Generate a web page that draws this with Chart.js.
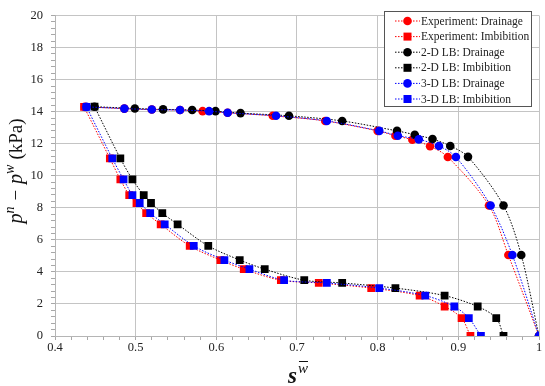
<!DOCTYPE html>
<html>
<head>
<meta charset="utf-8">
<script src="https://cdn.jsdelivr.net/npm/chart.js@4/dist/chart.umd.min.js"></script>
<style>
  html, body { margin: 0; padding: 0; background: #fff; }
  #wrap { width: 545px; height: 386px; }
</style>
</head>
<body>
<div id="wrap"><canvas id="chart" width="545" height="386"></canvas></div>
<script>
// saturation / capillary pressure values
const expDrainS = [0.437, 0.486, 0.520, 0.555, 0.583, 0.614, 0.670, 0.735, 0.800, 0.822, 0.843, 0.865, 0.887, 0.938, 0.962, 1.0];
const expDrainP = [14.3, 14.19, 14.13, 14.1, 14.03, 13.93, 13.74, 13.42, 12.8, 12.5, 12.25, 11.84, 11.17, 8.14, 5.05, 0];
const expImbS = [0.436, 0.468, 0.481, 0.492, 0.501, 0.513, 0.531, 0.567, 0.605, 0.634, 0.680, 0.727, 0.792, 0.852, 0.883, 0.904, 0.915];
const expImbP = [14.3, 11.08, 9.77, 8.79, 8.3, 7.67, 6.97, 5.62, 4.74, 4.17, 3.48, 3.31, 2.99, 2.52, 1.84, 1.12, 0];

const lb2DrainS = [0.449, 0.499, 0.534, 0.570, 0.599, 0.630, 0.690, 0.756, 0.824, 0.846, 0.868, 0.890, 0.912, 0.956, 0.978, 1.0];
const lb2DrainP = [14.31, 14.2, 14.14, 14.1, 14.03, 13.91, 13.74, 13.42, 12.8, 12.56, 12.29, 11.86, 11.18, 8.14, 5.05, 0];
const lb2ImbS = [0.449, 0.481, 0.496, 0.510, 0.519, 0.533, 0.552, 0.590, 0.629, 0.660, 0.709, 0.756, 0.822, 0.883, 0.924, 0.947, 0.956];
const lb2ImbP = [14.31, 11.08, 9.77, 8.79, 8.3, 7.67, 6.97, 5.62, 4.74, 4.17, 3.48, 3.31, 2.99, 2.52, 1.84, 1.12, 0];

const lb3DrainS = [0.439, 0.486, 0.520, 0.555, 0.591, 0.614, 0.674, 0.737, 0.802, 0.825, 0.851, 0.876, 0.897, 0.940, 0.967, 1.0];
const lb3DrainP = [14.3, 14.19, 14.13, 14.1, 14.03, 13.93, 13.74, 13.42, 12.8, 12.5, 12.27, 11.86, 11.17, 8.14, 5.05, 0];
const lb3ImbS = [0.439, 0.471, 0.485, 0.496, 0.505, 0.518, 0.536, 0.572, 0.610, 0.641, 0.684, 0.737, 0.802, 0.859, 0.895, 0.913, 0.928];
const lb3ImbP = [14.3, 11.08, 9.77, 8.79, 8.3, 7.67, 6.97, 5.62, 4.74, 4.17, 3.48, 3.31, 2.99, 2.52, 1.84, 1.12, 0];

const seriesNames = ["Experiment: Drainage", "Experiment: Imbibition", "2-D LB: Drainage", "2-D LB: Imbibition", "3-D LB: Drainage", "3-D LB: Imbibition"];

const SERIF = "'Liberation Serif', 'DejaVu Serif', serif";

function pts(xs, ys) {
    return xs.map((x, i) => ({ x: x, y: ys[i] }));
}

function makeSet(label, xs, ys, color, style, order) {
    return {
        label: label,
        data: pts(xs, ys),
        showLine: true,
        borderColor: color,
        backgroundColor: color,
        borderWidth: 1,
        borderDash: [1.5, 1.5],
        tension: 0.3,
        pointStyle: style,
        pointRadius: style === "rect" ? 5.5 : 4.3,
        pointBorderWidth: 0,
        order: order
    };
}

const datasets = [
    makeSet(seriesNames[0], expDrainS, expDrainP, "#ff0000", "circle", 2),
    makeSet(seriesNames[1], expImbS, expImbP, "#ff0000", "rect", 2),
    makeSet(seriesNames[2], lb2DrainS, lb2DrainP, "#000000", "circle", 1),
    makeSet(seriesNames[3], lb2ImbS, lb2ImbP, "#000000", "rect", 1),
    makeSet(seriesNames[4], lb3DrainS, lb3DrainP, "#0000ff", "circle", 0),
    makeSet(seriesNames[5], lb3ImbS, lb3ImbP, "#0000ff", "rect", 0)
];

function near(v, step) {
    return Math.abs(v / step - Math.round(v / step)) < 1e-6;
}

// draws rich text pieces one after another on the current baseline
function drawPieces(ctx, pieces, x, y) {
    let cx = x;
    pieces.forEach(p => {
        ctx.font = p.font;
        ctx.fillText(p.t, cx, y + (p.dy || 0));
        const w = ctx.measureText(p.t).width;
        if (p.bar) {
            ctx.fillRect(cx + 1, y + (p.dy || 0) - p.bar, w - 1, 1);
        }
        cx += w + (p.gap || 0);
    });
}

function piecesWidth(ctx, pieces) {
    let w = 0;
    pieces.forEach(p => {
        ctx.font = p.font;
        w += ctx.measureText(p.t).width + (p.gap || 0);
    });
    return w;
}

const decorations = {
    id: "decorations",
    afterDraw(chart) {
        const ctx = chart.ctx;
        ctx.save();
        ctx.fillStyle = "#111";
        ctx.textBaseline = "alphabetic";
        ctx.textAlign = "left";

        // y title
        const yPieces = [
            { t: "p", font: "italic 20px " + SERIF },
            { t: "n", font: "italic 14px " + SERIF, dy: -8, gap: 6 },
            { t: "\u2212", font: "19px " + SERIF, gap: 6 },
            { t: "p", font: "italic 20px " + SERIF },
            { t: "w", font: "italic 14px " + SERIF, dy: -8, gap: 5 },
            { t: "(kPa)", font: "19px " + SERIF }
        ];
        const yw = piecesWidth(ctx, yPieces);
        ctx.translate(22, 171);
        ctx.rotate(-Math.PI / 2);
        drawPieces(ctx, yPieces, -yw / 2, 0);
        ctx.setTransform(1, 0, 0, 1, 0, 0);

        // x title
        const xPieces = [
            { t: "s", font: "italic bold 23px " + SERIF, gap: 1 },
            { t: "w", font: "italic 15px " + SERIF, dy: -10, bar: 12 }
        ];
        const xw = piecesWidth(ctx, xPieces);
        drawPieces(ctx, xPieces, 298 - xw / 2, 383);

        // legend box
        const bx = 384.5, by = 11.5, bw = 147, bh = 95;
        ctx.fillStyle = "#fff";
        ctx.fillRect(bx, by, bw, bh);
        ctx.strokeStyle = "#555";
        ctx.lineWidth = 1;
        ctx.strokeRect(bx, by, bw, bh);
        chart.data.datasets.forEach((ds, i) => {
            const ly = 21 + i * 15.6;
            ctx.strokeStyle = ds.borderColor;
            ctx.setLineDash([1.5, 1.5]);
            ctx.beginPath();
            ctx.moveTo(395, ly);
            ctx.lineTo(420, ly);
            ctx.stroke();
            ctx.setLineDash([]);
            ctx.fillStyle = ds.backgroundColor;
            if (ds.pointStyle === "rect") {
                ctx.fillRect(403.5, ly - 4, 8, 8);
            } else {
                ctx.beginPath();
                ctx.arc(407.5, ly, 4.3, 0, Math.PI * 2);
                ctx.fill();
            }
            ctx.fillStyle = "#222";
            ctx.font = "11.5px " + SERIF;
            ctx.textBaseline = "middle";
            ctx.fillText(ds.label, 421, ly + 0.5);
        });
        ctx.restore();
    }
};

new Chart(document.getElementById("chart"), {
    type: "scatter",
    data: { datasets: datasets },
    options: {
        responsive: false,
        animation: false,
        layout: { padding: { top: 10, right: 6, left: 0, bottom: 0 } },
        plugins: {
            legend: { display: false },
            tooltip: { enabled: false }
        },
        scales: {
            x: {
                type: "linear",
                min: 0.4,
                max: 1,
                afterFit: (scale) => { scale.height = 50; },
                border: { color: "#b5b5b5" },
                grid: {
                    color: (c) => near(c.tick.value, 0.1) ? "#c4c4c4" : "rgba(0,0,0,0)",
                    tickColor: "#a8a8a8",
                    tickLength: 4
                },
                ticks: {
                    stepSize: 0.02,
                    maxTicksLimit: 100,
                    autoSkip: false,
                    maxRotation: 0,
                    padding: 0,
                    color: "#222",
                    font: { family: SERIF, size: 12.5 },
                    callback: (v) => near(v, 0.1) ? String(Math.round(v * 10) / 10) : ""
                }
            },
            y: {
                type: "linear",
                min: 0,
                max: 20,
                afterFit: (scale) => { scale.width = 55; },
                border: { color: "#b5b5b5" },
                grid: {
                    color: (c) => near(c.tick.value, 2) ? "#c4c4c4" : "rgba(0,0,0,0)",
                    tickColor: "#a8a8a8",
                    tickLength: 4
                },
                ticks: {
                    stepSize: 0.4,
                    maxTicksLimit: 100,
                    autoSkip: false,
                    padding: 8,
                    color: "#222",
                    font: { family: SERIF, size: 12.5 },
                    callback: (v) => near(v, 2) ? String(Math.round(v)) : ""
                }
            }
        }
    },
    plugins: [decorations]
});
</script>
</body>
</html>
